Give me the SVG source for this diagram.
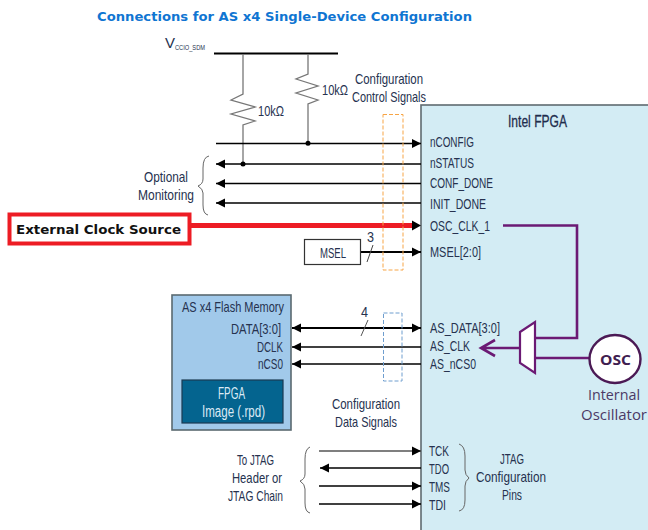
<svg xmlns="http://www.w3.org/2000/svg" width="648" height="530" viewBox="0 0 648 530">
<defs>
<marker id="ah" markerUnits="userSpaceOnUse" markerWidth="10" markerHeight="10" refX="9" refY="5" orient="auto-start-reverse"><path d="M0 0.5L9 5L0 9.5Z" fill="#000"/></marker>
</defs>
<style>
text{font-family:"Liberation Sans",Arial,sans-serif;font-size:15px;fill:#26324f}
.t{font-family:"DejaVu Sans",Verdana,sans-serif;font-weight:bold}
.l{stroke:#000;fill:none;stroke-width:1.3}
.g{stroke:#555;fill:none;stroke-width:1.5}
.b{stroke:#666;fill:none;stroke-width:1}
.p{stroke:#6b1a74;fill:none;stroke-width:2.600}
</style>
<rect width="648" height="530" fill="#fff"/>
<text class="t" x="97" y="21" style="font-size:13px;fill:#0f75d2" textLength="375" lengthAdjust="spacingAndGlyphs">Connections for AS x4 Single-Device Configuration</text>

<g id="fpga"><rect x="421" y="105" width="240" height="440" fill="#d3ecf4" stroke="#5f6b70" stroke-width="1.600"/>
<text x="508" y="127" textLength="59" lengthAdjust="spacingAndGlyphs" style="font-size:16px;fill:#1f2d4d;stroke:#1f2d4d;stroke-width:.3">Intel FPGA</text>
<text x="430" y="147" textLength="44" lengthAdjust="spacingAndGlyphs">nCONFIG</text>
<text x="430" y="168" textLength="44" lengthAdjust="spacingAndGlyphs">nSTATUS</text>
<text x="430" y="188" textLength="63" lengthAdjust="spacingAndGlyphs">CONF_DONE</text>
<text x="430" y="209" textLength="56" lengthAdjust="spacingAndGlyphs">INIT_DONE</text>
<text x="430" y="231" textLength="60" lengthAdjust="spacingAndGlyphs">OSC_CLK_1</text>
<text x="430" y="257" textLength="51" lengthAdjust="spacingAndGlyphs">MSEL[2:0]</text>
<text x="430" y="333" textLength="70" lengthAdjust="spacingAndGlyphs">AS_DATA[3:0]</text>
<text x="430" y="351" textLength="40" lengthAdjust="spacingAndGlyphs">AS_CLK</text>
<text x="430" y="369" textLength="46" lengthAdjust="spacingAndGlyphs">AS_nCS0</text>
<text x="429" y="456" textLength="20" lengthAdjust="spacingAndGlyphs">TCK</text>
<text x="429" y="474" textLength="20" lengthAdjust="spacingAndGlyphs">TDO</text>
<text x="429" y="492" textLength="21" lengthAdjust="spacingAndGlyphs">TMS</text>
<text x="429" y="510" textLength="17" lengthAdjust="spacingAndGlyphs">TDI</text>
<path class="b" d="M459 444Q465 446 465 456V470Q465 475 469 478Q465 481 465 486V500Q465 510 459 511"/>
<text x="500" y="464" textLength="24" lengthAdjust="spacingAndGlyphs">JTAG</text>
<text x="476" y="482" textLength="70" lengthAdjust="spacingAndGlyphs">Configuration</text>
<text x="502" y="500" textLength="20" lengthAdjust="spacingAndGlyphs">Pins</text>
</g>

<g id="connectors">
<path d="M214 53.500H338" stroke="#000" stroke-width="2" fill="none"/>
<path d="M243 54V94L231 100L255 107L231 114L255 121L243 125V164" stroke="#777" stroke-width="1.300" fill="none"/>
<path d="M308 54V74L296 79L318 86L296 93L318 100L308 104V143" stroke="#777" stroke-width="1.300" fill="none"/>
<circle cx="308" cy="143.300" r="2.500"/><circle cx="243" cy="164" r="2.500"/>
<path class="l" d="M216 143.500H421" marker-end="url(#ah)"/>
<path class="l" d="M421 164H216" marker-end="url(#ah)"/>
<path class="l" d="M421 183.500H216" marker-end="url(#ah)"/>
<path class="l" d="M421 203H216" marker-end="url(#ah)"/>
<path d="M190 225.500H412" stroke="#ed1c24" stroke-width="5" fill="none"/>
<path d="M412 220.500L421 225.500L412 230.500Z"/>
<path d="M361 252H421" stroke="#000" stroke-width="2" fill="none" marker-end="url(#ah)"/>
<path d="M373 245L367 262" stroke="#444" fill="none" stroke-width="1"/>
<path d="M292 328H421" stroke="#000" stroke-width="2" fill="none" marker-start="url(#ah)" marker-end="url(#ah)"/>
<path d="M368 320L361 336" stroke="#555" fill="none"/>
<path class="l" d="M421 347H292" marker-end="url(#ah)"/>
<path class="l" d="M421 364H292" marker-end="url(#ah)"/>
<path class="g" d="M319 451H421" marker-end="url(#ah)"/>
<path class="l" d="M421 468H320" marker-end="url(#ah)"/>
<path class="l" d="M319 486H421" marker-end="url(#ah)"/>
<path class="l" d="M319 504H421" marker-end="url(#ah)"/>
<path class="b" d="M310 447Q305 449 305 459V474Q305 479 300 481Q305 484 305 489V503Q305 512 310 513"/>
<path class="b" d="M209 156Q203 157 203 168V179Q203 184 198 186Q203 189 203 193V205Q203 214 208 215"/>
<path d="M383 114.500H403V270H383Z" fill="none" stroke="#f7a546" stroke-dasharray="4 2" stroke-width="1"/>
<path d="M383.500 313H402V381H383.500Z" fill="none" stroke="#6f9ecf" stroke-dasharray="4 2" stroke-width="1"/>
<path class="p" d="M503 225.500H577V338H535"/>
<path class="p" d="M535 358H589"/>
<path class="p" d="M520 348H482M495 340L481 348L495 356"/>
</g>

<g id="mux"><path d="M520 332L535 322V373L520 363Z" fill="#fff" stroke="#6b1a74" stroke-width="2.200"/></g>

<g id="vcc"><text x="165" y="48">V<tspan x="175" y="50" style="font-size:8px" textLength="30" lengthAdjust="spacingAndGlyphs">CCIO_SDM</tspan></text></g>
<g id="r1"><text x="258" y="116" textLength="26" lengthAdjust="spacingAndGlyphs">10kΩ</text></g>
<g id="r2"><text x="322" y="95" textLength="26" lengthAdjust="spacingAndGlyphs">10kΩ</text></g>
<g id="ctrl-label"><text x="355" y="84" textLength="68" lengthAdjust="spacingAndGlyphs">Configuration</text><text x="352" y="102" textLength="74" lengthAdjust="spacingAndGlyphs">Control Signals</text></g>
<g id="monitor-label"><text x="144" y="182" textLength="44" lengthAdjust="spacingAndGlyphs">Optional</text><text x="138" y="200" textLength="56" lengthAdjust="spacingAndGlyphs">Monitoring</text></g>

<g id="ext-clock"><rect x="9.500" y="214.500" width="180" height="29" fill="#fff" stroke="#ed1c24" stroke-width="4"/>
<text class="t" x="16" y="234" textLength="165" lengthAdjust="spacingAndGlyphs" style="font-size:13px;fill:#111">External Clock Source</text></g>

<g id="msel"><rect x="304.500" y="239.500" width="56" height="25" fill="#fff" stroke="#333" stroke-width="1.200"/>
<text x="320" y="258" textLength="26" lengthAdjust="spacingAndGlyphs">MSEL</text></g>
<text x="367" y="242" textLength="7" lengthAdjust="spacingAndGlyphs">3</text>
<text x="361" y="317" textLength="7" lengthAdjust="spacingAndGlyphs">4</text>

<g id="flash"><rect x="172" y="295" width="119" height="135" fill="#a1c9ea" stroke="#5a6a70" stroke-width="1.600"/>
<text x="182" y="312" textLength="102" lengthAdjust="spacingAndGlyphs">AS x4 Flash Memory</text>
<text x="231" y="334" textLength="50" lengthAdjust="spacingAndGlyphs">DATA[3:0]</text>
<text x="257" y="352" textLength="26" lengthAdjust="spacingAndGlyphs">DCLK</text>
<text x="258" y="369" textLength="25" lengthAdjust="spacingAndGlyphs">nCS0</text></g>
<g id="fpga-image"><rect x="182" y="380" width="101" height="43" fill="#04648f" stroke="#1c3a52" stroke-width="1.200"/>
<text x="218" y="399" textLength="27" lengthAdjust="spacingAndGlyphs" style="font-size:16px;fill:#dbeaf5">FPGA</text>
<text x="202" y="417" textLength="63" lengthAdjust="spacingAndGlyphs" style="font-size:16px;fill:#dbeaf5">Image (.rpd)</text></g>

<g id="data-label"><text x="332" y="409" textLength="68" lengthAdjust="spacingAndGlyphs">Configuration</text><text x="335" y="427" textLength="62" lengthAdjust="spacingAndGlyphs">Data Signals</text></g>
<g id="jtag-label"><text x="237" y="465" textLength="37" lengthAdjust="spacingAndGlyphs">To JTAG</text><text x="232" y="483" textLength="50" lengthAdjust="spacingAndGlyphs">Header or</text><text x="228" y="501" textLength="55" lengthAdjust="spacingAndGlyphs">JTAG Chain</text></g>

<g id="osc"><ellipse cx="615" cy="359" rx="25.500" ry="24" fill="#fff" stroke="#4b1a55" stroke-width="2.400"/>
<text x="600" y="365" textLength="31" lengthAdjust="spacingAndGlyphs" style="font-family:'Open Sans',sans-serif;font-size:15px;font-weight:bold;fill:#3f2050">OSC</text>
<text x="588" y="400" style="font-family:'Open Sans',sans-serif;font-size:14px;fill:#4b3a66" textLength="52" lengthAdjust="spacingAndGlyphs">Internal</text>
<text x="581" y="420" style="font-family:'Open Sans',sans-serif;font-size:14px;fill:#4b3a66" textLength="66" lengthAdjust="spacingAndGlyphs">Oscillator</text></g>
</svg>
